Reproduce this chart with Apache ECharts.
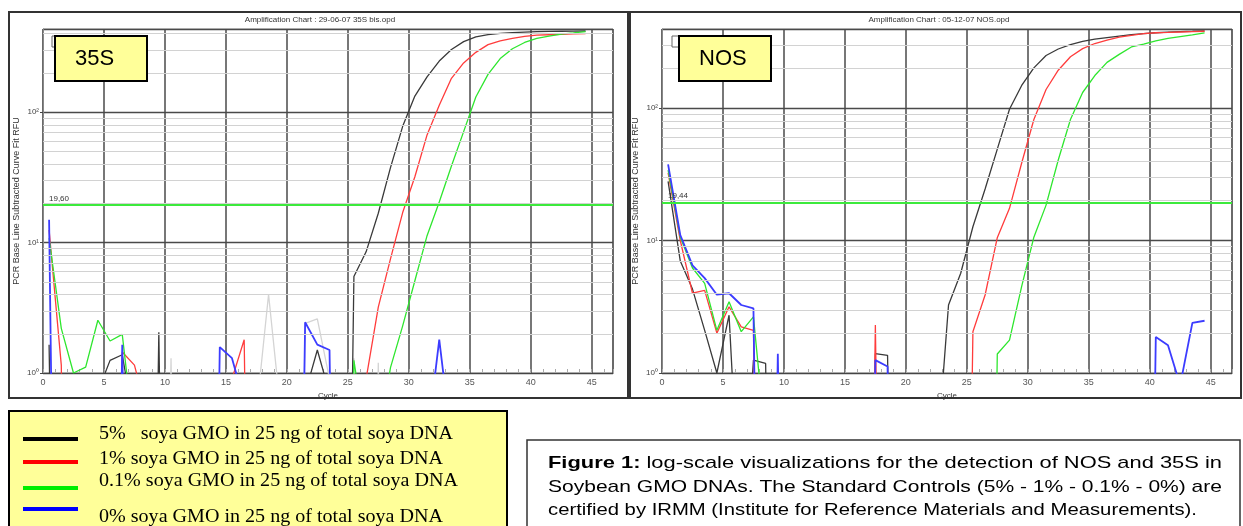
<!DOCTYPE html>
<html><head><meta charset="utf-8">
<script src="https://cdn.jsdelivr.net/npm/echarts/dist/echarts.min.js"></script>
<style>html,body{margin:0;padding:0;background:#fff;}#c{width:1243px;height:526px;}</style>
</head><body><div id="c"></div>
<script>
// ---------- DATA ----------
const BELOW = 1e-6; // baseline-subtracted RFU at or below zero (off the log scale)
const cyclePositions = [0.5,1.5,2.5,3.5,4.5,5.5,6.5,7.5,8.5,9.5,10.5,11.5,12.5,13.5,14.5,15.5,16.5,17.5,18.5,19.5,20.5,21.5,22.5,23.5,24.5,25.5,26.5,27.5,28.5,29.5,30.5,31.5,32.5,33.5,34.5,35.5,36.5,37.5,38.5,39.5,40.5,41.5,42.5,43.5,44.5];
const xTickLabels = [0,5,10,15,20,25,30,35,40,45];
const minorGridRFU = [2,3,4,5,6,7,8,9,20,30,40,50,60,70,80,90,200,300,400];

// 35S chart
const black35S = [1.65,BELOW,BELOW,BELOW,0.72,1.25,1.38,0.4,BELOW,2.05,
  BELOW,BELOW,BELOW,BELOW,BELOW,BELOW,BELOW,BELOW,BELOW,BELOW,
  BELOW,0.7,1.5,0.7,BELOW,5.5,8.5,16.8,37.6,78,
  133,187,247,303,348,378,394,403,408,412,
  415,417,418,419,420];
const red35S = [12.5,1.15,BELOW,BELOW,BELOW,BELOW,1.45,1.15,0.5,BELOW,
  BELOW,BELOW,BELOW,BELOW,BELOW,0.9,1.8,BELOW,BELOW,BELOW,
  BELOW,BELOW,BELOW,BELOW,BELOW,BELOW,0.9,3.2,7.5,17,
  32,67,113,182,239,288,330,353,369,382,
  390,393,396,399,401];
const green35S = [10.8,2.2,1.0,1.11,2.54,1.76,1.98,0.3,BELOW,BELOW,
  BELOW,BELOW,BELOW,BELOW,BELOW,BELOW,BELOW,BELOW,BELOW,BELOW,
  BELOW,BELOW,BELOW,BELOW,BELOW,1.25,0.3,0.3,1.1,2.3,
  5.1,11.3,20.5,38.7,71,131,195,258,307,343,
  368,383,398,406,415];
const blue35S = [15,BELOW,BELOW,BELOW,BELOW,BELOW,1.65,BELOW,BELOW,BELOW,
  BELOW,BELOW,BELOW,BELOW,1.58,1.3,0.6,BELOW,BELOW,BELOW,
  BELOW,2.45,1.65,1.5,BELOW,BELOW,BELOW,BELOW,BELOW,BELOW,
  BELOW,0.3,1.8,0.3,BELOW,BELOW,BELOW,BELOW,BELOW,BELOW,
  BELOW,BELOW,BELOW,BELOW,BELOW];
const other35S = [BELOW,BELOW,BELOW,BELOW,BELOW,BELOW,BELOW,BELOW,BELOW,BELOW,
  1.3,BELOW,BELOW,BELOW,BELOW,BELOW,BELOW,0.5,4.0,0.5,
  BELOW,2.4,2.6,0.9,BELOW,1.3,BELOW,1.2,BELOW,BELOW,
  BELOW,BELOW,BELOW,BELOW,BELOW,BELOW,BELOW,BELOW,BELOW,BELOW,
  BELOW,BELOW,BELOW,BELOW,BELOW];
const threshold35S = 19.60;

// NOS chart
const blackNOS = [28,7.0,4.3,2.1,1.0,2.73,0.05,1.25,1.18,BELOW,
  BELOW,BELOW,BELOW,BELOW,BELOW,BELOW,BELOW,1.4,1.36,BELOW,
  BELOW,BELOW,0.2,3.26,5.66,12.7,24.5,49,98,148,
  201,249,279,301,318,331,340,349,358,364,
  370,374,378,380,383];
const redNOS = [32.4,10,4.0,4.2,2.0,3.16,2.23,2.1,BELOW,BELOW,
  BELOW,BELOW,BELOW,BELOW,BELOW,BELOW,BELOW,2.3,BELOW,BELOW,
  BELOW,BELOW,BELOW,BELOW,BELOW,2.05,3.88,10.5,17.5,38.5,
  82,138,193,244,281,307,326,343,354,365,
  370,372,375,378,380];
const greenNOS = [34,10.6,6.2,4.75,2.1,3.45,2.05,2.65,0.3,BELOW,
  BELOW,BELOW,BELOW,BELOW,BELOW,BELOW,BELOW,BELOW,BELOW,BELOW,
  BELOW,BELOW,BELOW,BELOW,BELOW,BELOW,BELOW,1.39,1.77,4.5,
  10.6,18.5,40.5,82,131,176,221,254,289,304,
  321,335,346,357,369];
const blueNOS = [37.5,11,6.5,5.2,3.9,4.0,3.26,3.07,BELOW,1.4,
  BELOW,BELOW,BELOW,BELOW,BELOW,BELOW,BELOW,1.25,1.12,BELOW,
  BELOW,BELOW,BELOW,BELOW,BELOW,BELOW,BELOW,BELOW,BELOW,BELOW,
  BELOW,BELOW,BELOW,BELOW,BELOW,BELOW,BELOW,BELOW,BELOW,BELOW,
  1.87,1.62,0.81,2.39,2.48];
const thresholdNOS = 19.44;

const chartTitles = ['Amplification Chart : 29-06-07 35S bis.opd', 'Amplification Chart : 05-12-07 NOS.opd'];
const targetNames = ['35S', 'NOS'];
const legendLabels = ['5%   soya GMO in 25 ng of total soya DNA','1% soya GMO in 25 ng of total soya DNA','0.1% soya GMO in 25 ng of total soya DNA','0% soya GMO in 25 ng of total soya DNA'];
const legendColors = ['#000000','#ff0000','#00ee00','#0000ff'];
const captionBold = 'Figure 1:';
const captionLines = [' log-scale visualizations for the detection of NOS and 35S in',
  'Soybean GMO DNAs. The Standard Controls (5% - 1% - 0.1% - 0%) are',
  'certified by IRMM (Institute for Reference Materials and Measurements).'];

// ---------- LAYOUT ----------
const grids = [{left:43, top:29, width:570, height:344, yMax:435}, {left:662, top:29, width:570, height:344, yMax:395}];
const xMax = 46.75;
const SANS = '"Liberation Sans", Arial, sans-serif';
const SERIF = '"Liberation Serif", "Times New Roman", serif';
const sup = {0:'\u2070',1:'\u00B9',2:'\u00B2',3:'\u00B3'};

const ctx = document.createElement('canvas').getContext('2d');
function textWidth(t, font){ ctx.font = font; return ctx.measureText(t).width; }

function lineSeries(name, vals, color, width, gi, z){
  return {type:'line', name, xAxisIndex:gi, yAxisIndex:gi, z,
    data: cyclePositions.map((c,i)=>[c, vals[i]]),
    symbol:'none', showSymbol:false, clip:true, silent:true, animation:false,
    lineStyle:{color, width}, itemStyle:{color}};
}

const series = [];
const sets = [
  {other:other35S, black:black35S, red:red35S, green:green35S, blue:blue35S, thr:threshold35S, thrLabel:'19,60'},
  {other:null, black:blackNOS, red:redNOS, green:greenNOS, blue:blueNOS, thr:thresholdNOS, thrLabel:'19,44'}
];
sets.forEach((s,gi)=>{
  series.push({type:'line', xAxisIndex:gi, yAxisIndex:gi, z:1, data:[], silent:true, animation:false,
    markLine:{silent:true, symbol:['none','none'], animation:false, label:{show:false},
      lineStyle:{color:'#d2d2d2', width:1, type:'solid'},
      data: minorGridRFU.filter(v=>v<grids[gi].yMax-5).map(v=>({yAxis:v}))}});
  if (s.other) series.push(lineSeries('other', s.other, '#d4d4d4', 1.3, gi, 2));
  series.push(lineSeries('5%', s.black, '#3a3a3a', 1.3, gi, 3));
  series.push(lineSeries('1%', s.red, '#ff3c3c', 1.3, gi, 3));
  series.push(lineSeries('0.1%', s.green, '#2ee62e', 1.3, gi, 3));
  series.push(lineSeries('0%', s.blue, '#3c3cff', 1.8, gi, 3));
  series.push({type:'line', xAxisIndex:gi, yAxisIndex:gi, z:4, data:[], silent:true, animation:false,
    markLine:{silent:true, symbol:['none','none'], animation:false,
      lineStyle:{color:'#3cea3c', width:2.2, type:'solid'},
      label:{show:true, position:'insideStartTop', formatter:s.thrLabel, fontSize:8, color:'#333', fontFamily:SANS, distance:[6,2]},
      data:[{yAxis:s.thr}]}});
});

const xAxes = grids.map((g,gi)=>({type:'value', gridIndex:gi, min:0, max:xMax, interval:5,
  axisLine:{show:true, lineStyle:{color:'#444', width:1.2}},
  axisTick:{show:true, inside:true, length:4, lineStyle:{color:'#aaa'}},
  minorTick:{show:true, splitNumber:5, length:4, lineStyle:{color:'#aaa'}},
  axisLabel:{show:true, fontSize:9, color:'#555', fontFamily:SANS, margin:5, showMaxLabel:false,
    formatter:v=> xTickLabels.indexOf(v)>=0 ? String(v) : ''},
  splitLine:{show:true, lineStyle:{color:'#4a4a4a', width:1.5}},
  name:'Cycle', nameLocation:'middle', nameGap:19, nameTextStyle:{fontSize:8, color:'#333', fontFamily:SANS}}));

const yAxes = grids.map((g,gi)=>({type:'log', logBase:10, gridIndex:gi, min:1, max:g.yMax,
  axisLine:{show:true, lineStyle:{color:'#888', width:1}},
  axisTick:{show:true, length:3, lineStyle:{color:'#444'}},
  axisLabel:{fontSize:8, color:'#444', fontFamily:SANS, margin:4, showMaxLabel:false,
    formatter:v=>{ const e=Math.round(Math.log10(v)); return Math.abs(Math.log10(v)-e)<1e-6 ? '10'+sup[e] : ''; }},
  splitLine:{show:true, lineStyle:{color:'#4a4a4a', width:1.3}},
  name:'PCR Base Line Subtracted Curve Fit RFU', nameLocation:'middle', nameGap:22,
  nameTextStyle:{fontSize:9, color:'#333', fontFamily:SANS}}));

// ---------- GRAPHICS ----------
const graphic = [];
graphic.push({type:'rect', shape:{x:9,y:12,width:619,height:386}, style:{fill:null, stroke:'#333', lineWidth:2}, silent:true, z:1});
graphic.push({type:'rect', shape:{x:630,y:12,width:611,height:386}, style:{fill:null, stroke:'#333', lineWidth:2}, silent:true, z:1});
graphic.push({type:'text', x:320, y:20, style:{text:chartTitles[0], font:'8px '+SANS, fill:'#333', align:'center', verticalAlign:'middle'}, silent:true});
graphic.push({type:'text', x:939, y:20, style:{text:chartTitles[1], font:'8px '+SANS, fill:'#333', align:'center', verticalAlign:'middle'}, silent:true});
[[52,55,75],[672,679,699]].forEach((p,i)=>{
  graphic.push({type:'rect', shape:{x:p[0],y:36,width:11,height:11}, style:{fill:'#fff', stroke:'#666', lineWidth:1}, silent:true, z:20});
  graphic.push({type:'rect', shape:{x:p[1],y:36,width:92,height:45}, style:{fill:'#ffff99', stroke:'#000', lineWidth:2}, silent:true, z:21});
  graphic.push({type:'text', x:p[2], y:59, style:{text:targetNames[i], font:'22px '+SANS, fill:'#000', verticalAlign:'middle'}, silent:true, z:22});
});
graphic.push({type:'rect', shape:{x:9,y:411,width:498,height:130}, style:{fill:'#ffff99', stroke:'#000', lineWidth:2}, silent:true, z:20});
const legLineY = [439,462,488,509];
const legTextY = [434,459,481,517];
const legTextW = [354,344,359,344];
legendLabels.forEach((t,i)=>{
  graphic.push({type:'line', shape:{x1:23,y1:legLineY[i],x2:78,y2:legLineY[i]}, style:{stroke:legendColors[i], lineWidth:4}, silent:true, z:21});
  const f = '19px '+SERIF;
  const w = textWidth(t, f);
  graphic.push({type:'text', x:99, y:legTextY[i], scaleX: legTextW[i]/w, style:{x:0,y:0,text:t, font:f, fill:'#000', verticalAlign:'middle'}, silent:true, z:22});
});
graphic.push({type:'rect', shape:{x:527,y:440,width:713,height:100}, style:{fill:'#fff', stroke:'#333', lineWidth:1.5}, silent:true, z:20});
const capSize = 17;
const capFont = capSize+'px '+SANS, capBold = 'bold '+capSize+'px '+SANS;
const capY = [463,487,510];
const capW = [674,674,649];
captionLines.forEach((t,i)=>{
  const isFirst = i===0;
  const w = textWidth(t, capFont) + (isFirst ? textWidth(captionBold, capBold) : 0);
  graphic.push({type:'text', x:548, y:capY[i], scaleX: capW[i]/w,
    style:{x:0,y:0,text:(isFirst?'{b|'+captionBold+'}':'')+t, font:capFont, fill:'#000', verticalAlign:'middle',
      rich:{b:{fontWeight:'bold', fontSize:capSize, fontFamily:SANS, fill:'#000'}}}, silent:true, z:22});
});

const chart = echarts.init(document.getElementById('c'), null, {renderer:'canvas'});
chart.setOption({
  animation:false,
  backgroundColor:'#ffffff',
  grid: grids.map(g=>({left:g.left, top:g.top, width:g.width, height:g.height, show:true, borderColor:'#999', borderWidth:1, backgroundColor:'#fff', outerBoundsMode:'none', containLabel:false})),
  xAxis:xAxes, yAxis:yAxes, series, graphic
});
</script></body></html>
